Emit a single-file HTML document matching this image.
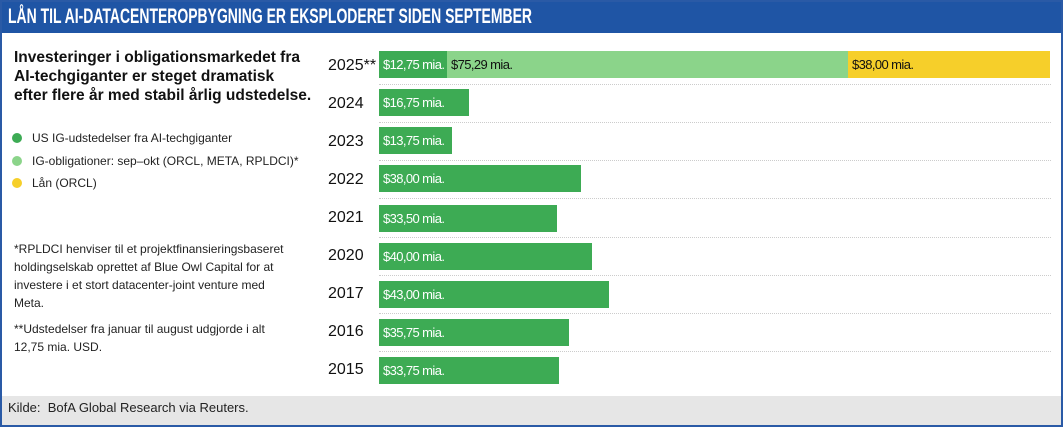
<!DOCTYPE html>
<html><head><meta charset="utf-8"><style>
*{margin:0;padding:0;box-sizing:border-box}
body{width:1063px;height:427px;overflow:hidden;background:#fff;font-family:"Liberation Sans",sans-serif;position:relative}
.frame{position:absolute;left:0;top:0;width:1063px;height:427px;border:2px solid #2a5aa6}
.title{position:absolute;left:0;top:0;width:1063px;height:33px;background:#1f55a5}
.title span{position:absolute;left:8px;top:0;color:#fff;font-weight:bold;font-size:21px;line-height:34px;white-space:nowrap;transform:scaleX(0.665);transform-origin:left center;}
.sub{position:absolute;left:14px;top:48px;font-size:15.5px;font-weight:bold;line-height:19px;color:#111}
.leg{position:absolute;left:12px;font-size:12px;color:#222}
.leg i{display:inline-block;width:10px;height:10px;border-radius:50%;margin-right:10px;vertical-align:-1px}
.note{position:absolute;left:14px;font-size:12px;line-height:18px;color:#222}
.yr{position:absolute;left:328px;font-size:16px;color:#111;white-space:nowrap}
.bar{position:absolute;height:27px;color:#fff;font-size:13px;line-height:27px;padding-left:4px;letter-spacing:-0.6px;white-space:nowrap}
.sep{position:absolute;left:379px;width:672px;border-top:1px dotted #ccc}
.foot{position:absolute;left:2px;top:396px;width:1059px;height:29px;background:#e6e6e6;font-size:13px;line-height:24px;padding-left:6px;color:#222}
</style></head><body>
<div class="title"><span>LÅN TIL AI-DATACENTEROPBYGNING ER EKSPLODERET SIDEN SEPTEMBER</span></div>
<div class="sub">Investeringer i obligationsmarkedet fra<br>AI-techgiganter er steget dramatisk<br>efter flere år med stabil årlig udstedelse.</div>
<div class="leg" style="top:131px"><i style="background:#3dab54"></i>US IG-udstedelser fra AI-techgiganter</div>
<div class="leg" style="top:154px"><i style="background:#8bd48a"></i>IG-obligationer: sep–okt (ORCL, META, RPLDCI)*</div>
<div class="leg" style="top:176px"><i style="background:#f6cf2a"></i>Lån (ORCL)</div>
<div class="note" style="top:240px">*RPLDCI henviser til et projektfinansieringsbaseret<br>holdingselskab oprettet af Blue Owl Capital for at<br>investere i et stort datacenter-joint venture med<br>Meta.</div>
<div class="note" style="top:320px">**Udstedelser fra januar til august udgjorde i alt<br>12,75 mia. USD.</div>

<div class="yr" style="top:57px">2025**</div>
<div class="bar" style="top:51px;left:379px;width:68px;background:#3dab54">$12,75 mia.</div>
<div class="bar" style="top:51px;left:447px;width:401px;background:#8bd48a;color:#111">$75,29 mia.</div>
<div class="bar" style="top:51px;left:848px;width:202px;background:#f6cf2a;color:#111">$38,00 mia.</div>
<div class="sep" style="top:84px"></div>

<div class="yr" style="top:95px">2024</div>
<div class="bar" style="top:89px;left:379px;width:90px;background:#3dab54">$16,75 mia.</div>
<div class="sep" style="top:122px"></div>
<div class="yr" style="top:133px">2023</div>
<div class="bar" style="top:127px;left:379px;width:73px;background:#3dab54">$13,75 mia.</div>
<div class="sep" style="top:160px"></div>
<div class="yr" style="top:171px">2022</div>
<div class="bar" style="top:165px;left:379px;width:202px;background:#3dab54">$38,00 mia.</div>
<div class="sep" style="top:198px"></div>
<div class="yr" style="top:209px">2021</div>
<div class="bar" style="top:205px;left:379px;width:178px;background:#3dab54">$33,50 mia.</div>
<div class="sep" style="top:237px"></div>
<div class="yr" style="top:247px">2020</div>
<div class="bar" style="top:243px;left:379px;width:213px;background:#3dab54">$40,00 mia.</div>
<div class="sep" style="top:275px"></div>
<div class="yr" style="top:285px">2017</div>
<div class="bar" style="top:281px;left:379px;width:230px;background:#3dab54">$43,00 mia.</div>
<div class="sep" style="top:313px"></div>
<div class="yr" style="top:323px">2016</div>
<div class="bar" style="top:319px;left:379px;width:190px;background:#3dab54">$35,75 mia.</div>
<div class="sep" style="top:351px"></div>
<div class="yr" style="top:361px">2015</div>
<div class="bar" style="top:357px;left:379px;width:180px;background:#3dab54">$33,75 mia.</div>

<div class="foot">Kilde:&nbsp; BofA Global Research via Reuters.</div>
<div class="frame"></div>
</body></html>
